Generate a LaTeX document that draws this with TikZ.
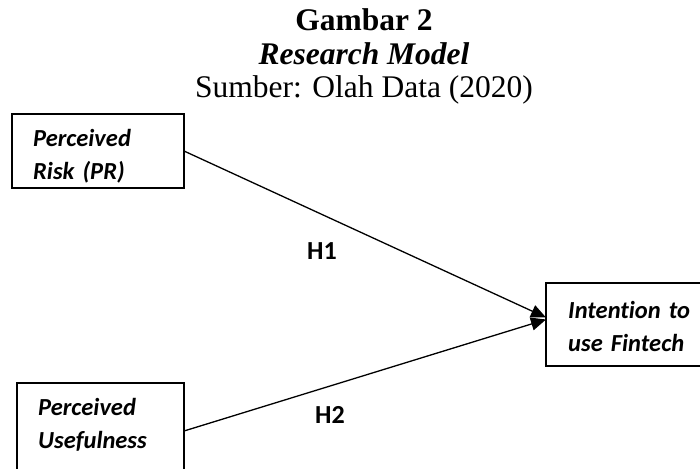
\documentclass[tikz,border=0pt]{standalone}
\usepackage{fontspec}
\setmainfont{Liberation Serif}
\newfontfamily\calibfont[Ligatures=NoCommon]{Carlito}
\usetikzlibrary{arrows.meta}
\begin{document}
\begin{tikzpicture}[x=1pt,y=-1pt,
  varbox/.style={draw, line width=2.6pt, anchor=north west, inner sep=0pt, outer sep=0pt},
  vartext/.style={font=\calibfont\bfseries\itshape\fontsize{24.5}{33}\selectfont, align=left, inner sep=0pt, anchor=west},
  link/.style={line width=1.3pt, -{Triangle[length=15pt,width=13pt]}},
  hyp/.style={font=\calibfont\bfseries\fontsize{26}{30}\selectfont, inner sep=0pt, anchor=base west},
  titletext/.style={font=\fontsize{31.5}{36}\selectfont, inner sep=0pt, anchor=base}]
\useasboundingbox (0,0) rectangle (700,468);
\clip (0,0) rectangle (700,468);
\node[titletext, font=\bfseries\fontsize{31.5}{36}\selectfont] (t1) at (364,31) {Gambar 2};
\node[titletext, font=\bfseries\itshape\fontsize{31.5}{36}\selectfont] (t2) at (364,65) {Research Model};
\node[titletext] (t3) at (364,98) {Sumber: Olah Data (2020)};
\node[varbox, minimum width=172pt, minimum height=74pt] (pr) at (12,114) {};
\node[varbox, minimum width=170pt, minimum height=83pt] (int) at (546,283) {};
\node[varbox, minimum width=167pt, minimum height=100pt] (pu) at (17,383) {};
\node[vartext, text width=130pt] (prt) at (33,156) {Perceived\\Risk (PR)};
\node[vartext, text width=125pt] (intt) at (568,326) {Intention to\\use Fintech};
\node[vartext, text width=130pt] (put) at (38,425) {Perceived\\Usefulness};
\coordinate (tip1) at ([yshift=7pt]int.west);
\coordinate (tip2) at ([yshift=5pt]int.west);
\draw[link] (pr.east) -- (tip1);
\draw[link] (pu.east |- 0,431) -- (tip2);
\node[hyp] (h1) at (307,259) {H1};
\node[hyp] (h2) at (315,423) {H2};
\end{tikzpicture}
\end{document}
